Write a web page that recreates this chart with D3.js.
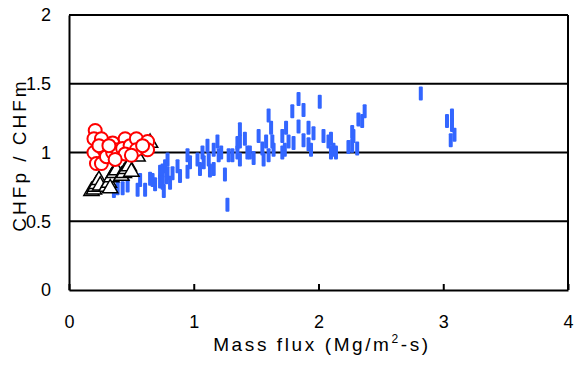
<!DOCTYPE html>
<html>
<head>
<meta charset="utf-8">
<script src="https://cdn.jsdelivr.net/npm/d3@7"></script>
<style>
  body { margin: 0; background: #fff; }
  text { font-family: "Liberation Sans", Arial, sans-serif; fill: #000; }
</style>
</head>
<body>
<script>
(function () {
  'use strict'

  // Data: mass flux (Mg/m2-s) and CHFp / CHFm
  var blueFlux = [0.36, 0.39, 0.43, 0.47, 0.55, 0.57, 0.61, 0.65, 0.67, 0.69, 0.73, 0.73, 0.75, 0.75, 0.76, 0.77, 0.78, 0.79, 0.79, 0.81,
    0.83, 0.87, 0.89, 0.95, 0.95, 0.97, 1.03, 1.05, 1.07, 1.08, 1.11, 1.12, 1.13, 1.16, 1.16, 1.19, 1.2, 1.22, 1.25, 1.27,
    1.28, 1.31, 1.35, 1.35, 1.37, 1.37, 1.37, 1.41, 1.43, 1.45, 1.48, 1.52, 1.55, 1.56, 1.58, 1.6, 1.6, 1.62, 1.63, 1.64,
    1.71, 1.71, 1.73, 1.74, 1.76, 1.79, 1.8, 1.84, 1.84, 1.88, 1.88, 1.92, 1.92, 1.94, 1.96, 2.01, 2.04, 2.08, 2.1, 2.1,
    2.12, 2.14, 2.24, 2.27, 2.27, 2.28, 2.31, 2.32, 2.35, 2.37, 2.82, 3.03, 3.07, 3.07, 3.06, 3.09]
  var blueRatio = [0.72, 0.74, 0.74, 0.76, 0.73, 0.80, 0.73, 0.81, 0.80, 0.77, 0.86, 0.79, 0.87, 0.78, 0.72, 0.90, 0.82, 0.95, 0.85, 0.78,
    0.85, 0.90, 0.83, 0.98, 0.86, 0.93, 0.95, 0.88, 1.0, 0.93, 1.05, 0.95, 0.87, 1.02, 0.88, 1.08, 0.98, 1.0, 0.84, 0.62,
    0.98, 0.98, 1.07, 1.0, 1.17, 1.08, 0.95, 1.1, 1.0, 1.0, 0.96, 1.12, 1.03, 0.95, 1.08, 0.98, 1.27, 1.18, 1.08, 1.02,
    1.12, 1.0, 1.02, 1.18, 1.08, 1.3, 1.07, 1.39, 1.19, 1.31, 1.09, 1.18, 1.06, 1.02, 1.14, 1.37, 1.12, 1.08, 1.1, 1.0,
    1.02, 1.0, 1.04, 1.15, 1.05, 1.12, 1.03, 1.24, 1.23, 1.3, 1.43, 1.23, 1.27, 1.2, 1.09, 1.13]

  var triFlux = [0.18, 0.2, 0.21, 0.22, 0.24, 0.25, 0.3, 0.32, 0.34, 0.36, 0.38, 0.33, 0.42, 0.44, 0.46, 0.48, 0.5, 0.55, 0.65]
  var triRatio = [0.72, 0.73, 0.75, 0.77, 0.8, 0.76, 0.75, 0.78, 0.82, 0.85, 0.87, 0.74, 0.83, 0.85, 0.88, 0.9, 0.86, 0.97, 1.07]

  var circFlux = [0.21, 0.2, 0.26, 0.2, 0.22, 0.26, 0.28, 0.3, 0.35, 0.35, 0.39, 0.45, 0.43, 0.49, 0.45, 0.54, 0.54, 0.63, 0.63, 0.59,
    0.37, 0.5, 0.24, 0.32]
  var circRatio = [1.16, 1.1, 1.1, 1.0, 0.92, 0.92, 1.02, 0.97, 1.07, 1.0, 1.02, 1.1, 1.03, 1.05, 0.99, 1.1, 1.02, 1.08, 1.02, 1.05,
    0.95, 0.98, 1.05, 1.05]

  var xTicks = [0, 1, 2, 3, 4]
  var yTicks = [0, 0.5, 1, 1.5, 2]

  var w = 577
  var h = 370
  var font = '"Liberation Sans", Arial, sans-serif'

  var x = d3.scaleLinear().domain([0, 4]).range([69, 568])
  var y = d3.scaleLinear().domain([0, 2]).range([290, 15])

  var svg = d3.select('body').append('svg')
    .attr('width', w)
    .attr('height', h)

  // Gridlines, top edge included
  svg.append('g')
    .selectAll('line')
    .data(yTicks.slice(1))
    .enter().append('line')
      .attr('x1', x(0))
      .attr('x2', x(4))
      .attr('y1', function (d) { return y(d) })
      .attr('y2', function (d) { return y(d) })
      .attr('stroke', '#000')
      .attr('stroke-width', 2)

  // Right border
  svg.append('line')
    .attr('x1', x(4)).attr('x2', x(4))
    .attr('y1', y(2)).attr('y2', y(0))
    .attr('stroke', '#000')
    .attr('stroke-width', 2)

  // Blue series: short vertical dashes
  svg.append('g')
    .selectAll('rect')
    .data(blueFlux)
    .enter().append('rect')
      .attr('x', function (d) { return x(d) - 2 })
      .attr('y', function (d, i) { return y(blueRatio[i]) - 7 })
      .attr('width', 4)
      .attr('height', 14)
      .attr('rx', 1)
      .attr('fill', '#3366ff')

  // Triangles
  var tri = d3.symbol().type(d3.symbolTriangle).size(100)
  svg.append('g')
    .selectAll('path')
    .data(triFlux)
    .enter().append('path')
      .attr('d', tri)
      .attr('transform', function (d, i) {
        return 'translate(' + x(d) + ',' + y(triRatio[i]) + ')'
      })
      .attr('fill', '#fff')
      .attr('stroke', '#000')
      .attr('stroke-width', 1.5)

  // Circles
  svg.append('g')
    .selectAll('circle')
    .data(circFlux)
    .enter().append('circle')
      .attr('cx', function (d) { return x(d) })
      .attr('cy', function (d, i) { return y(circRatio[i]) })
      .attr('r', 6.5)
      .attr('fill', '#fff')
      .attr('stroke', '#ff0000')
      .attr('stroke-width', 2)

  // Bottom axis
  var bottom = d3.axisBottom(x).tickValues(xTicks).tickSize(0).tickPadding(38)
    .tickFormat(d3.format('d'))
  var gx = svg.append('g')
    .attr('transform', 'translate(0,' + y(0) + ')')
    .call(bottom)
  gx.select('.domain').attr('stroke', '#000').attr('stroke-width', 2)
  gx.selectAll('text').attr('font-size', 18).attr('font-family', font)
    .attr('dy', '0')
  gx.selectAll('.tick').append('line')
    .attr('y1', 0).attr('y2', -6)
    .attr('stroke', '#000').attr('stroke-width', 2)

  // Left axis
  var left = d3.axisLeft(y).tickValues(yTicks).tickSize(0).tickPadding(18)
    .tickFormat(function (d) { return String(d) })
  var gy = svg.append('g')
    .attr('transform', 'translate(' + x(0) + ',0)')
    .call(left)
  gy.select('.domain').attr('stroke', '#000').attr('stroke-width', 2)
  gy.selectAll('text').attr('font-size', 18).attr('font-family', font)

  // Axis titles
  var xt = svg.append('text')
    .attr('x', 322)
    .attr('y', 351)
    .attr('text-anchor', 'middle')
    .attr('font-size', 19)
    .attr('letter-spacing', 2.6)
  xt.append('tspan').text('Mass flux (Mg/m')
  xt.append('tspan').attr('font-size', 12).attr('dy', -8).text('2')
  xt.append('tspan').attr('dy', 8).text('-s)')

  svg.append('text')
    .attr('transform', 'translate(26,155) rotate(-90)')
    .attr('text-anchor', 'middle')
    .attr('font-size', 19)
    .attr('letter-spacing', 3)
    .text('CHFp / CHFm')
}())
</script>
</body>
</html>
